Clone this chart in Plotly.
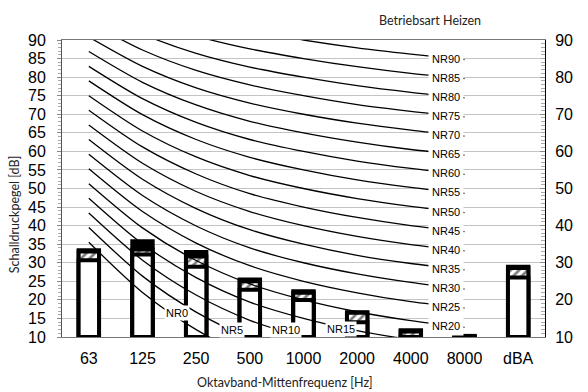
import plotly.graph_objects as go

# Octave band centre frequencies plus the A-weighted sum
bands = ["63", "125", "250", "500", "1000", "2000", "4000", "8000", "dBA"]

# Sound pressure levels [dB]: lower level, upper edge of hatched band, top level
base_level = [30.7, 32.2, 28.9, 22.7, 20.0, 14.0, 9.5, 9.8, 26.0]
hatch_top = [33.0, 33.6, 31.7, 25.0, 21.9, 16.5, 11.5, 10.1, 28.6]
top_level = [33.4, 35.8, 32.9, 25.5, 22.3, 16.7, 11.8, 10.3, 28.9]

# Noise rating curves NR0 ... NR90 (63 Hz ... 8000 Hz)
nr_numbers = list(range(0, 95, 5))
nr_levels = [
    [35.5, 22.0, 12.0, 4.8, 0.0, -3.5, -6.1, -8.0],
    [39.5, 26.4, 16.7, 9.7, 5.0, 1.6, -1.0, -2.9],
    [43.4, 30.7, 21.3, 14.5, 10.0, 6.7, 4.2, 2.3],
    [47.4, 35.1, 26.0, 19.4, 15.0, 11.7, 9.3, 7.5],
    [51.3, 39.4, 30.6, 24.3, 20.0, 16.8, 14.4, 12.6],
    [55.3, 43.8, 35.3, 29.2, 25.0, 21.9, 19.5, 17.8],
    [59.2, 48.1, 39.9, 34.0, 30.0, 27.0, 24.7, 22.9],
    [63.2, 52.5, 44.6, 38.9, 35.0, 32.0, 29.8, 28.1],
    [67.1, 56.8, 49.2, 43.8, 40.0, 37.1, 34.9, 33.2],
    [71.1, 61.2, 53.9, 48.6, 45.0, 42.2, 40.0, 38.4],
    [75.0, 65.5, 58.5, 53.5, 50.0, 47.3, 45.2, 43.5],
    [79.0, 69.9, 63.2, 58.4, 55.0, 52.3, 50.3, 48.7],
    [82.9, 74.2, 67.8, 63.2, 60.0, 57.4, 55.4, 53.8],
    [86.9, 78.6, 72.5, 68.1, 65.0, 62.5, 60.5, 59.0],
    [90.8, 82.9, 77.1, 73.0, 70.0, 67.6, 65.7, 64.1],
    [94.8, 87.3, 81.8, 77.9, 75.0, 72.6, 70.8, 69.3],
    [98.7, 91.6, 86.4, 82.7, 80.0, 77.7, 75.9, 74.4],
    [102.7, 96.0, 91.1, 87.6, 85.0, 82.8, 81.0, 79.6],
    [106.6, 100.3, 95.7, 92.5, 90.0, 87.9, 86.2, 84.7],
]

Y_MIN, Y_MAX = 10, 90
BAR_W = 0.38
EDGE = dict(color="black", width=4)

fig = go.Figure()

# stacked look: black cap, hatched band, white lower part (drawn over each other)
fig.add_trace(go.Bar(
    x=bands, y=[v - Y_MIN for v in top_level], base=Y_MIN, width=BAR_W,
    marker=dict(color="black", line=EDGE), hoverinfo="skip"))
fig.add_trace(go.Bar(
    x=bands, y=[v - Y_MIN for v in hatch_top], base=Y_MIN, width=BAR_W,
    marker=dict(color="white", line=EDGE,
                pattern=dict(shape="/", fgcolor="black", bgcolor="white",
                              size=6, solidity=0.45)),
    hoverinfo="skip"))
fig.add_trace(go.Bar(
    x=bands, y=[v - Y_MIN for v in base_level], base=Y_MIN, width=BAR_W,
    marker=dict(color="white", line=EDGE), hoverinfo="skip"))

# NR curves on top of the bars
for nr, levels in zip(nr_numbers, nr_levels):
    fig.add_trace(go.Scatter(
        x=bands[:8], y=levels, mode="lines",
        line=dict(color="black", width=1.3, shape="spline", smoothing=0.8),
        hoverinfo="skip"))

# invisible trace so the right-hand axis is drawn
fig.add_trace(go.Scatter(x=[bands[0]], y=[Y_MIN], yaxis="y2", mode="markers",
                         marker=dict(opacity=0), hoverinfo="skip"))

label_font = dict(family="Liberation Sans, Arial", size=11, color="black")
annotations = []
# labels at the 8000 Hz end of the curves
for nr, levels in zip(nr_numbers, nr_levels):
    if nr >= 20:
        annotations.append(dict(
            x=7, y=levels[7], xref="x", yref="y", text=f"NR{nr}",
            showarrow=False, xanchor="right", xshift=-1, yshift=1,
            bgcolor="white", borderpad=3, font=label_font))
# low curves leave the chart early: label them along the curve
low_label_pos = {0: (1.64, 16.6), 5: (2.67, 11.8), 10: (3.67, 11.8), 15: (4.70, 12.2)}
for nr, (lx, ly) in low_label_pos.items():
    annotations.append(dict(
        x=lx, y=ly, xref="x", yref="y", text=f"NR{nr}", showarrow=False,
        bgcolor="white", borderpad=1, font=label_font))

title_font = dict(family="Lato, Open Sans", size=12.5, color="#222")
annotations += [
    dict(x=0.762, y=1.0, xref="paper", yref="paper", xanchor="center",
         yanchor="middle", yshift=20,
         text="Betriebsart Heizen", showarrow=False, font=title_font),
    dict(x=0.462, y=0, xref="paper", yref="paper", xanchor="center",
         yanchor="middle", yshift=-45,
         text="Oktavband-Mittenfrequenz [Hz]", showarrow=False, font=title_font),
    dict(x=0, y=0.41, xref="paper", yref="paper", xanchor="center",
         yanchor="middle", xshift=-48, textangle=-90,
         text="Schalldruckpegel [dB]", showarrow=False, font=title_font),
]

tick_font = dict(family="Liberation Sans, Arial", size=16, color="black")
fig.update_layout(
    width=588, height=392,
    margin=dict(l=62, r=43, t=40, b=55),
    paper_bgcolor="white", plot_bgcolor="white",
    barmode="overlay", showlegend=False,
    annotations=annotations,
    xaxis=dict(type="category", range=[-0.5, 8.5], showgrid=False,
               showline=True, linecolor="#777", linewidth=1, mirror=True,
               ticks="", tickfont=tick_font, ticklabelstandoff=7),
    yaxis=dict(range=[Y_MIN, Y_MAX], tickmode="linear", tick0=10, dtick=5,
               showgrid=True, gridcolor="#c4c4c4", gridwidth=1,
               showline=True, linecolor="#555", linewidth=1,
               ticks="outside", ticklen=4, tickcolor="#888",
               minor=dict(dtick=1, ticks="outside", ticklen=3, tickcolor="#aaa"),
               tickfont=tick_font, ticklabelstandoff=8, zeroline=False),
    yaxis2=dict(range=[Y_MIN, Y_MAX], overlaying="y", side="right",
                tickmode="linear", tick0=10, dtick=10, showgrid=False,
                showline=True, linecolor="black", linewidth=1,
                ticks="inside", ticklen=5, tickcolor="#888",
                minor=dict(dtick=1, ticks="inside", ticklen=4, tickcolor="#aaa"),
                tickfont=tick_font, ticklabelstandoff=6, zeroline=False),
)

fig.write_html("out.html")
